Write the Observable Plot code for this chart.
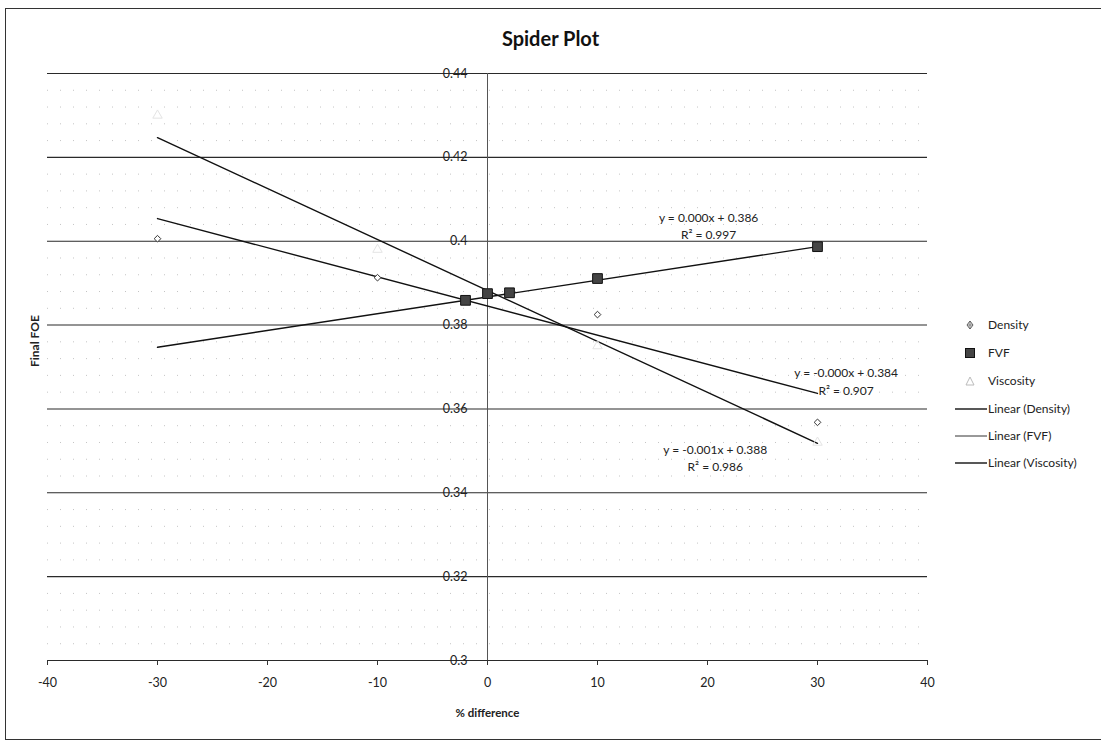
<!DOCTYPE html>
<html>
<head>
<meta charset="utf-8">
<script src="https://cdn.jsdelivr.net/npm/d3@7"></script>
<script src="https://cdn.jsdelivr.net/npm/@observablehq/plot@0.6"></script>
<style>
  body { margin: 0; background: #fff; font-family: Lato, "Open Sans", sans-serif; }
  #wrap { position: relative; width: 1101px; height: 744px; overflow: hidden; }
  #frame { position: absolute; left: 5px; top: 8px; width: 1100px; height: 732px; border: 1px solid #333; border-right: none; box-sizing: border-box; }
  #title { position: absolute; left: 0; top: 26px; width: 1101px; text-align: center; font-weight: bold; font-size: 20px; line-height: 24px; color: #111; }
  #chart { position: absolute; left: 0; top: 60px; }
  .lg { position: absolute; height: 16px; font-size: 12px; line-height: 16px; color: #222; white-space: nowrap; }
  .lg svg { position: absolute; left: 0; top: 0; }
  .lg span { position: absolute; left: 36px; top: 0; }
</style>
</head>
<body>
<div id="wrap">
  <div id="frame"></div>
  <div id="title">Spider Plot</div>
  <div id="chart"></div>
  <div id="legend"></div>
</div>
<script>
// ---- data ----
const seriesNames = ["Density", "FVF", "Viscosity"];
const densityX = [-30, -10, 10, 30];
const densityY = [0.4006, 0.3913, 0.3825, 0.3568];
const fvfX = [-2, 0, 2, 10, 30];
const fvfY = [0.3859, 0.3875, 0.3877, 0.3911, 0.3987];
const viscosityX = [-30, -10, 0, 10, 30];
const viscosityY = [0.430, 0.398, 0.387, 0.375, 0.352];
// linear trendlines (Density, FVF, Viscosity)
const trendSlope = [-0.000695, 0.0004, -0.001215];
const trendIntercept = [0.38455, 0.3867, 0.38825];
const trendRange = [-30, 30];
const trendEquations = ["y = -0.000x + 0.384", "y = 0.000x + 0.386", "y = -0.001x + 0.388"];
const trendR2 = ["R\u00b2 = 0.907", "R\u00b2 = 0.997", "R\u00b2 = 0.986"];
// axes
const xTicks = [-40, -30, -20, -10, 0, 10, 20, 30, 40];
const yTicks = [0.3, 0.32, 0.34, 0.36, 0.38, 0.4, 0.42, 0.44];
const yTickLabels = ["0.3", "0.32", "0.34", "0.36", "0.38", "0.4", "0.42", "0.44"];
const xTitle = "% difference";
const yTitle = "Final FOE";

// ---- tables built from the arrays ----
const densityRows = densityX.map((x, i) => ({x, y: densityY[i]}));
const fvfRows = fvfX.map((x, i) => ({x, y: fvfY[i]}));
const viscosityRows = viscosityX.map((x, i) => ({x, y: viscosityY[i]}));
const trendRows = seriesNames.flatMap((s, i) =>
  trendRange.map(x => ({series: s, x, y: trendIntercept[i] + trendSlope[i] * x})));
const minorRows = d3.range(1, 35).filter(i => i % 5 !== 0).map(i => 0.3 + i * 0.004);
// label placement (layout, data units)
const eqPlace = [
  {x: 32.6, y1: 0.3685, y2: 0.3642},
  {x: 20.1, y1: 0.4054, y2: 0.4014},
  {x: 20.7, y1: 0.3501, y2: 0.3460}
];
const eqRows = seriesNames.map((s, i) => ({eq: trendEquations[i], r2: trendR2[i], ...eqPlace[i]}));

const font = "Lato, 'Open Sans', sans-serif";

const chart = Plot.plot({
  width: 1101,
  height: 684,
  marginLeft: 47,
  marginRight: 174,
  marginTop: 13,
  marginBottom: 84,
  style: {fontFamily: font, fontSize: "12px", color: "#222", background: "transparent"},
  x: {domain: [-40, 40]},
  y: {domain: [0.3, 0.44], axis: null},
  marks: [
    Plot.ruleY(minorRows, {x1: -40, x2: 40, stroke: "#c4c4c4", strokeDasharray: "1,12"}),
    Plot.ruleY(yTicks, {x1: -40, x2: 40, stroke: "#2a2a2a", strokeWidth: 1.1}),
    Plot.ruleX([0], {y1: 0.3, y2: 0.44, stroke: "#555", strokeWidth: 1}),
    Plot.axisX({ticks: xTicks, tickSize: 5, tickPadding: 13, fontSize: 12.5, label: null,
      tickFormat: d => String(d), stroke: "#333"}),
    Plot.text(yTicks, {x: 0, y: d => d, text: (d, i) => yTickLabels[i], dx: -20, textAnchor: "end",
      fontSize: 12.5, fill: "#222"}),
    Plot.line(trendRows, {x: "x", y: "y", z: "series", stroke: "#111", strokeWidth: 1.4}),
    Plot.dot(viscosityRows, {x: "x", y: "y", symbol: "triangle", r: 3.5, fill: "none", stroke: "#e4e4e4", strokeWidth: 1}),
    Plot.dot(densityRows, {x: "x", y: "y", symbol: "diamond2", r: 3, fill: "#fff", stroke: "#333", strokeWidth: 1}),
    Plot.dot(fvfRows, {x: "x", y: "y", symbol: "square", r: 5.5, fill: "#444", stroke: "#111", strokeWidth: 1}),
    Plot.text(eqRows, {x: "x", y: "y1", text: "eq", fontSize: 12, fill: "#222"}),
    Plot.text(eqRows, {x: "x", y: "y2", text: "r2", fontSize: 12, fill: "#222"}),
    Plot.text([xTitle], {frameAnchor: "bottom", dy: 56, text: d => d, fontSize: 11.5, fontWeight: "bold", fill: "#222"}),
    Plot.text([yTitle], {frameAnchor: "left", dx: -12, rotate: -90, text: d => d, fontSize: 12, fontWeight: "bold", fill: "#222"})
  ]
});
document.getElementById("chart").appendChild(chart);

// ---- legend ----
const legend = document.getElementById("legend");
const legendCenters = [325, 353, 381, 409, 436, 463];
const swatches = [
  '<path d="M18 4 L21 8 L18 12 L15 8 Z" fill="#fff" stroke="#555"/><path d="M18 5 V11 M15.5 8 H20.5" stroke="#777"/>',
  '<rect x="13.5" y="3.5" width="9" height="9" fill="#444" stroke="#111"/>',
  '<path d="M18 4 L22 12 L14 12 Z" fill="none" stroke="#bbb"/>',
  '<line x1="3" x2="35" y1="8" y2="8" stroke="#111" stroke-width="1.4"/>',
  '<line x1="3" x2="35" y1="8" y2="8" stroke="#333" stroke-width="1"/>',
  '<line x1="3" x2="35" y1="8" y2="8" stroke="#111" stroke-width="1.4"/>'
];
const legendLabels = [...seriesNames, ...seriesNames.map(s => `Linear (${s})`)];
legendLabels.forEach((lab, i) => {
  const d = document.createElement("div");
  d.className = "lg";
  d.style.left = "952px";
  d.style.top = (legendCenters[i] - 8) + "px";
  d.innerHTML = `<svg width="36" height="16">${swatches[i]}</svg><span>${lab}</span>`;
  legend.appendChild(d);
});
</script>
</body>
</html>
